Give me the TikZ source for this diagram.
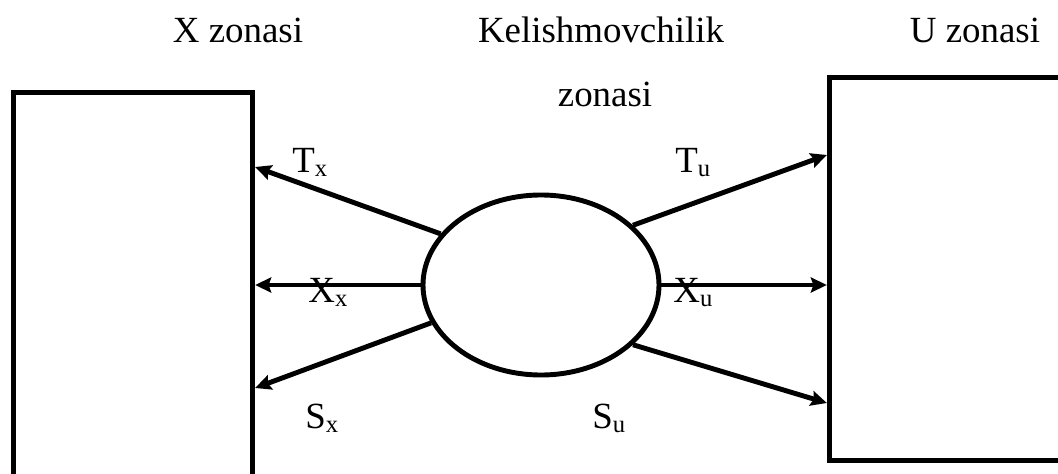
\documentclass[tikz,border=0pt]{standalone}
\usepackage{fontspec}
\setmainfont{Liberation Serif}
\usetikzlibrary{positioning, shapes.geometric, arrows.meta}

% small lowered index
\newcommand{\zsub}[1]{\raisebox{-0.12em}{\fontsize{14}{14}\selectfont #1}}

\begin{document}
\begin{tikzpicture}[
		zonebox/.style={draw, rectangle, line width=3pt},
		clash/.style={draw, ellipse, line width=2.8pt, minimum width=4.72cm, minimum height=3.6cm},
		flow/.style={-{Stealth[length=0.32cm, width=0.3cm, inset=0.05cm]}, line width=2.8pt},
		lbl/.style={inner sep=0pt, font=\fontsize{21}{25}\selectfont}
	]
		\useasboundingbox (0,0) rectangle (21.16,9.46);
		
		% Zones
		\node (xzone) [zonebox, minimum width=4.78cm, minimum height=7.91cm] at (2.66,3.655) {};
		\node (uzone) [zonebox, minimum width=5.01cm, minimum height=7.66cm] at (19.095,4.08) {};
		\node (clash) [clash] at (10.82,3.76) {};
		
		% Ends on the zones
		\coordinate (tx) at (xzone.east |- 0,6.12);
		\coordinate (xx) at (xzone.east |- clash.west);
		\coordinate (sx) at (xzone.east |- 0,1.70);
		\coordinate (tu) at (uzone.west |- 0,6.36);
		\coordinate (xu) at (uzone.west |- clash.east);
		\coordinate (su) at (uzone.west |- 0,1.40);
		
		% Connections
		\draw[flow] (clash.153) -- (tx);
		\draw[flow] (clash.west) -- (xx);
		\draw[flow] (clash.199) -- (sx);
		\draw[flow] (clash.33) -- (tu);
		\draw[flow] (clash.east) -- (xu);
		\draw[flow] (clash.327) -- (su);
		
		% Labels
		\node (xtitle) [lbl, anchor=base] at (4.76,8.60) {X zonasi};
		\node (ctitle) [lbl, anchor=base] at (12.02,8.60) {Kelishmovchilik};
		\node (ctitle2) [lbl, anchor=base] at (12.10,7.32) {zonasi};
		\node (utitle) [lbl, anchor=base] at (19.50,8.60) {U zonasi};
		
		\node (txl) [lbl, anchor=base west] at (5.84,6.02) {T\zsub{x}};
		\node (xxl) [lbl, anchor=base west] at (6.16,3.42) {X\zsub{x}};
		\node (sxl) [lbl, anchor=base west] at (6.10,0.90) {S\zsub{x}};
		\node (tul) [lbl, anchor=base west] at (13.50,6.02) {T\zsub{u}};
		\node (xul) [lbl, anchor=base west] at (13.46,3.42) {X\zsub{u}};
		\node (sul) [lbl, anchor=base west] at (11.84,0.90) {S\zsub{u}};
		
	\end{tikzpicture}
\end{document}
